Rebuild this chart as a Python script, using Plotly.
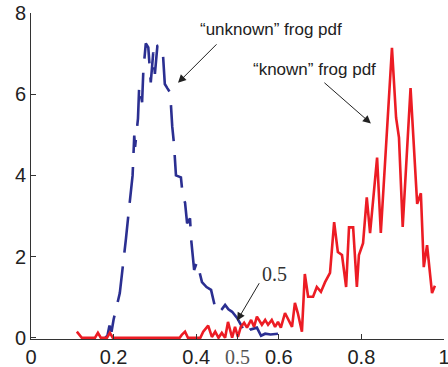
import plotly.graph_objects as go

# "unknown" frog pdf (blue, dashed)
unknown_x = [0.180, 0.185, 0.190, 0.195, 0.200, 0.205, 0.210, 0.215, 0.220, 0.225,
             0.230, 0.235, 0.240, 0.246, 0.250, 0.252, 0.259, 0.262, 0.264, 0.269,
             0.272, 0.278, 0.284, 0.290, 0.296, 0.300, 0.306, 0.312, 0.319, 0.324,
             0.330, 0.337, 0.342, 0.346, 0.351, 0.357, 0.363, 0.368, 0.373, 0.378,
             0.385, 0.388, 0.395, 0.402, 0.407, 0.414, 0.425, 0.436, 0.446, 0.453,
             0.462, 0.470, 0.478, 0.487, 0.499, 0.511, 0.518, 0.530, 0.547, 0.557,
             0.567, 0.580, 0.598]
unknown_y = [0.00, 0.05, 0.30, 0.15, 0.45, 0.65, 0.85, 1.10, 1.55, 2.10,
             2.45, 2.95, 3.45, 4.00, 4.98, 4.70, 5.40, 6.20, 6.10, 5.80,
             6.58, 7.25, 7.15, 6.29, 7.03, 6.50, 7.19, 7.21, 7.07, 6.25,
             6.15, 6.04, 5.20, 4.80, 4.00, 3.97, 3.95, 3.44, 3.33, 2.82,
             2.94, 2.40, 1.67, 1.87, 1.67, 1.37, 1.25, 1.18, 0.74, 0.61,
             0.70, 0.81, 0.70, 0.64, 0.49, 0.27, 0.07, 0.20, 0.25, 0.05,
             0.10, 0.08, 0.10]

# "known" frog pdf (red, solid)
known_x = [0.111, 0.123, 0.155, 0.162, 0.169, 0.184, 0.191, 0.198, 0.360, 0.365,
           0.373, 0.380, 0.385, 0.410, 0.417, 0.429, 0.438, 0.446, 0.454, 0.462,
           0.470, 0.477, 0.487, 0.494, 0.501, 0.508, 0.516, 0.523, 0.533, 0.540,
           0.547, 0.559, 0.567, 0.574, 0.583, 0.591, 0.598, 0.605, 0.615, 0.625,
           0.632, 0.639, 0.646, 0.656, 0.663, 0.671, 0.683, 0.692, 0.702, 0.712,
           0.724, 0.734, 0.743, 0.753, 0.763, 0.770, 0.780, 0.789, 0.794, 0.804,
           0.813, 0.821, 0.838, 0.847, 0.874, 0.884, 0.891, 0.900, 0.919, 0.935,
           0.944, 0.951, 0.959, 0.971, 0.978]
known_y = [0.15, 0.00, 0.00, 0.12, 0.00, 0.00, 0.12, 0.00, 0.00, 0.07,
           0.15, 0.00, 0.00, 0.00, 0.15, 0.30, 0.02, 0.15, 0.00, 0.12,
           0.00, 0.39, 0.00, 0.27, 0.02, 0.27, 0.37, 0.25, 0.44, 0.27,
           0.52, 0.32, 0.44, 0.32, 0.44, 0.27, 0.39, 0.25, 0.61, 0.39,
           0.27, 0.86, 0.61, 0.15, 1.57, 1.01, 1.01, 1.25, 1.13, 1.37,
           1.60, 2.85, 2.11, 2.04, 1.25, 2.72, 2.72, 1.25, 2.04, 2.33,
           3.46, 2.58, 4.44, 2.58, 7.14, 5.42, 4.93, 2.73, 6.15, 3.30,
           3.56, 1.74, 2.28, 1.10, 1.28]

x_tickvals = [0, 0.2, 0.4, 0.5, 0.6, 0.8, 1]
x_ticktext = ["0", "0.2", "0.4",
              '<span style="font-family:\'Liberation Serif\', serif; color:#555">0.5</span>',
              "0.6", "0.8", "1"]
y_tickvals = [0, 2, 4, 6, 8]
y_ticktext = ["0", "2", "4", "6", "8"]

BLUE = "#2b2f91"
RED = "#ec1c24"
SANS = "Liberation Sans, Arial, sans-serif"

fig = go.Figure()
fig.add_trace(go.Scatter(x=unknown_x, y=unknown_y, mode="lines",
                         line=dict(color=BLUE, width=2.6, dash="36px,14px"),
                         showlegend=False))
fig.add_trace(go.Scatter(x=known_x, y=known_y, mode="lines",
                         line=dict(color=RED, width=2.6),
                         showlegend=False))

# text labels
fig.add_annotation(x=0.582, y=7.6, text="“unknown” frog pdf", showarrow=False,
                   font=dict(family=SANS, size=17, color="#222"))
fig.add_annotation(x=0.686, y=6.6, text="“known” frog pdf", showarrow=False,
                   font=dict(family=SANS, size=17, color="#222"))
fig.add_annotation(x=0.590, y=1.58, text="0.5", showarrow=False,
                   font=dict(family="Liberation Serif, Times New Roman, serif", size=20, color="#333"))

# arrows
fig.add_annotation(x=0.356, y=6.28, ax=40, ay=-40, text="", showarrow=True,
                   arrowhead=2, arrowsize=1.6, arrowwidth=1, arrowcolor="#222")
fig.add_annotation(x=0.823, y=5.28, ax=-48, ay=-42, text="", showarrow=True,
                   arrowhead=2, arrowsize=1.6, arrowwidth=1, arrowcolor="#222")
fig.add_annotation(x=0.499, y=0.42, ax=23, ay=-39, text="", showarrow=True,
                   arrowhead=2, arrowsize=1.6, arrowwidth=1, arrowcolor="#222")

fig.update_layout(
    width=448, height=367,
    margin=dict(l=31, r=4, t=13, b=28, autoexpand=False),
    paper_bgcolor="white", plot_bgcolor="white",
    font=dict(family=SANS, size=20, color="#222"),
    xaxis=dict(range=[0, 1], tickvals=x_tickvals, ticktext=x_ticktext,
               automargin=False, ticklabeloverflow="allow",
               showgrid=False, zeroline=False, showline=True, linecolor="#333",
               linewidth=1, ticks="inside", ticklen=5, tickcolor="#333",
               tickfont=dict(family=SANS, size=20, color="#222")),
    yaxis=dict(range=[-0.03, 8], tickvals=y_tickvals, ticktext=y_ticktext,
               automargin=False, ticklabeloverflow="allow",
               showgrid=False, zeroline=False, showline=True, linecolor="#333",
               linewidth=1, ticks="inside", ticklen=5, tickcolor="#333",
               tickfont=dict(family=SANS, size=20, color="#222")),
)

fig.write_html("out.html", config={"displayModeBar": False},
               post_script="document.body.style.margin='0';document.body.style.overflow='hidden';")
